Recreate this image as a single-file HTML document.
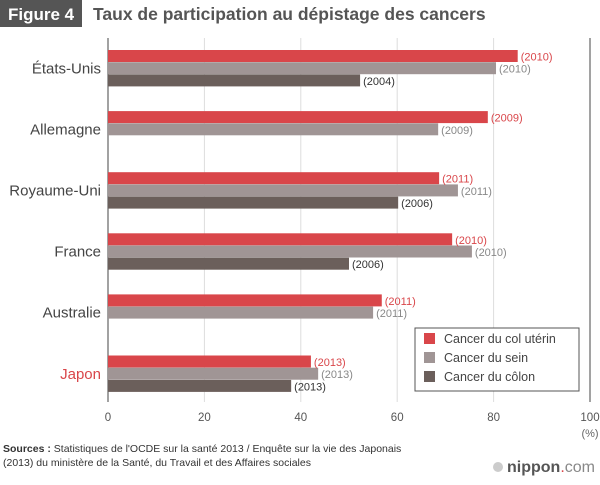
<!DOCTYPE html>
<html><head><meta charset="utf-8"><style>
body{margin:0;background:#fff;font-family:"Liberation Sans",sans-serif}
svg text{font-family:"Liberation Sans",sans-serif}
</style></head><body>
<svg width="600" height="480" xmlns="http://www.w3.org/2000/svg">
<rect x="0" y="0" width="600" height="480" fill="#fff"/>
<rect x="0" y="0" width="82" height="27" fill="#555"/>
<text x="8" y="20" font-size="17" font-weight="bold" fill="#fff">Figure 4</text>
<text x="93" y="20" font-size="17.5" font-weight="bold" fill="#555">Taux de participation au dépistage des cancers</text>
<g id="grid"></g>
<g id="bars"></g>
<g id="labels"></g>
<g>
<rect x="415" y="328" width="164" height="63" fill="#fff" stroke="#555" stroke-width="1"/>
<rect x="424" y="333" width="11" height="11" fill="#d9464a"/><text x="444" y="343" font-size="12.5" fill="#444">Cancer du col utérin</text>
<rect x="424" y="352" width="11" height="11" fill="#a09595"/><text x="444" y="362" font-size="12.5" fill="#444">Cancer du sein</text>
<rect x="424" y="371" width="11" height="11" fill="#6b5f5b"/><text x="444" y="381" font-size="12.5" fill="#444">Cancer du côlon</text>
</g>
<text x="590" y="437" font-size="11" fill="#666" text-anchor="middle">(%)</text>
<text x="3" y="452" font-size="10.5" fill="#333"><tspan font-weight="bold">Sources :</tspan> Statistiques de l'OCDE sur la santé 2013 / Enquête sur la vie des Japonais</text>
<text x="3" y="466" font-size="10.5" fill="#333">(2013) du ministère de la Santé, du Travail et des Affaires sociales</text>
<g>
<circle cx="498" cy="467" r="5" fill="#ccc"/>
<text x="507" y="472" font-size="16" fill="#555"><tspan font-weight="bold">nippon</tspan><tspan fill="#d9464a">.</tspan><tspan fill="#888">com</tspan></text>
</g>
</svg>
<script>
const countries=["États-Unis","Allemagne","Royaume-Uni","France","Australie","Japon"];
const cervical=[85,78.8,68.7,71.4,56.8,42.1];
const cervicalYears=["2010","2009","2011","2010","2011","2013"];
const breast=[80.5,68.5,72.6,75.5,55,43.6];
const breastYears=["2010","2009","2011","2010","2011","2013"];
const colon=[52.3,null,60.2,50,null,38];
const colonYears=["2004","","2006","2006","","2013"];
const ticks=[0,20,40,60,80,100];
const NS="http://www.w3.org/2000/svg";
const x=v=>108+v*4.82;
const groupTop=i=>50+i*61.1;
function mk(t,a,p){const e=document.createElementNS(NS,t);for(const k in a)e.setAttribute(k,a[k]);p.appendChild(e);return e;}
const grid=document.getElementById('grid'),bars=document.getElementById('bars'),labels=document.getElementById('labels');
ticks.forEach(t=>{
 const l=mk('line',{x1:x(t),x2:x(t),y1:38,y2:402,stroke:(t===0||t===100)?'#444':'#ddd','stroke-width':1},grid);
 
 
 const tx=mk('text',{x:x(t),y:421,'font-size':11.5,fill:'#555','text-anchor':'middle'},grid);
 tx.textContent=t;
 
 
});
const series=[[cervical,cervicalYears,'#d9464a','#d9464a','cervical'],[breast,breastYears,'#a09595','#888','breast'],[colon,colonYears,'#6b5f5b','#333','colon']];
countries.forEach((c,i)=>{
 const top=groupTop(i);
 const cy=top+18.3+5;
 const lab=mk('text',{x:101,y:cy,'font-size':15,fill:i===5?'#d9464a':'#444','text-anchor':'end'},labels);
 lab.textContent=c;
 
 
 series.forEach((s,j)=>{
  const v=s[0][i]; if(v==null)return;
  const y=top+j*12.2;
  const r=mk('rect',{x:x(0),y:y,width:x(v)-x(0),height:12,fill:s[2]},bars);
  
  
  const t=mk('text',{x:x(v)+3,y:y+10.5,'font-size':11,fill:s[3]},labels);
  t.textContent='('+s[1][i]+')';
  
  
 });
});
</script>
</body></html>
